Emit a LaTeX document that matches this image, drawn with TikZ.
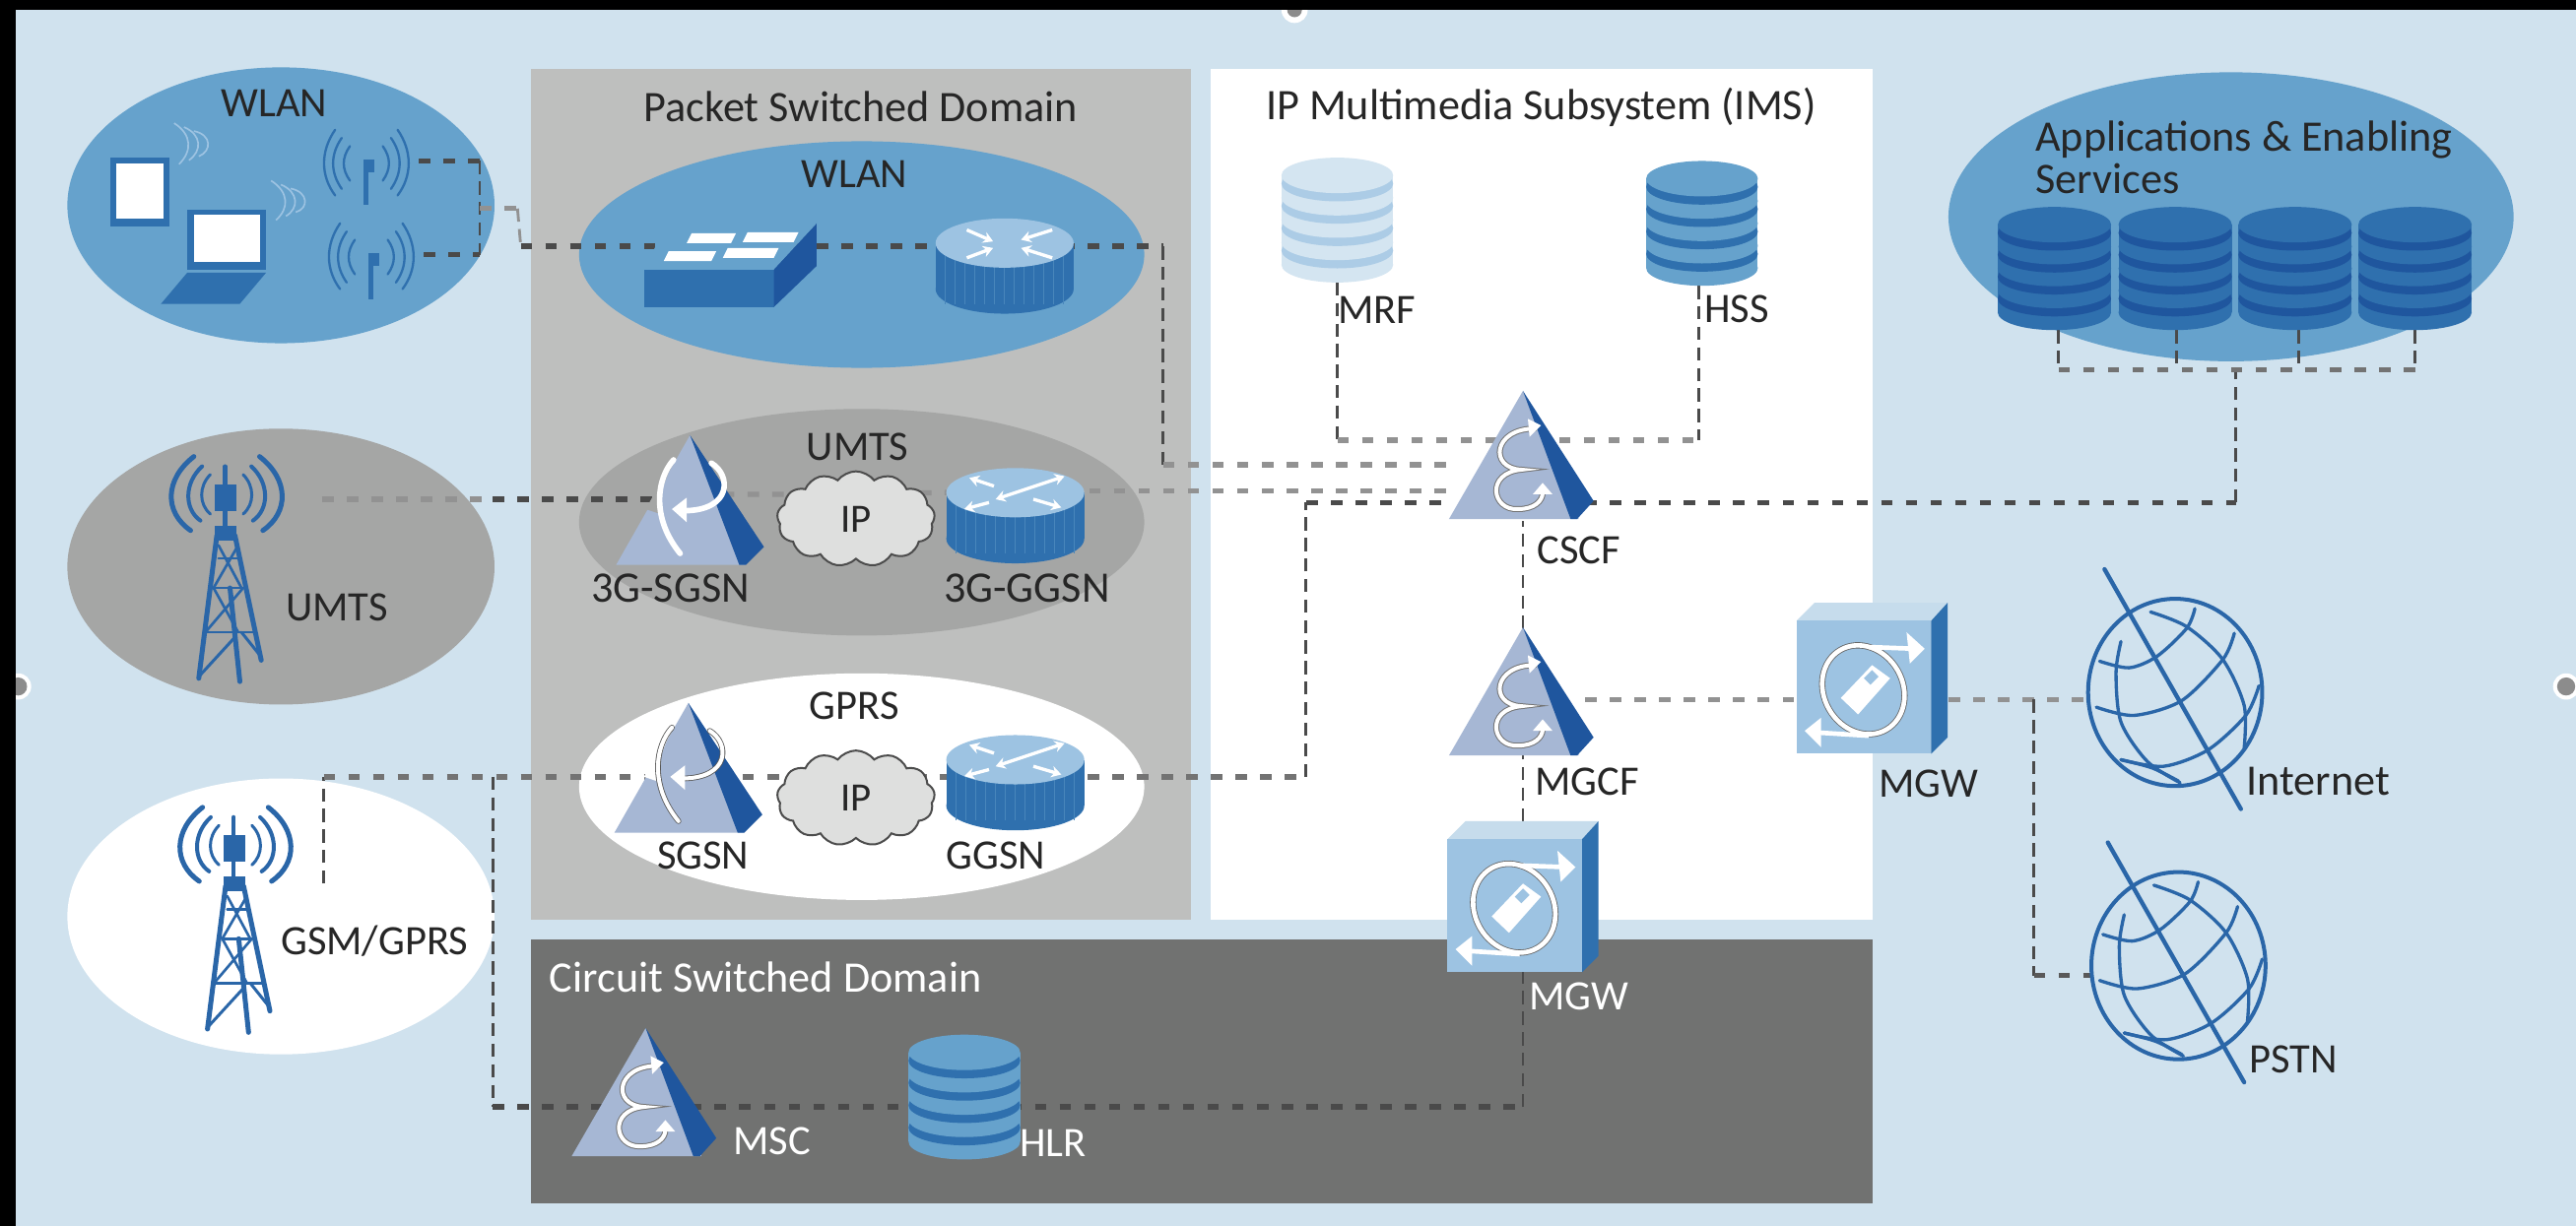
\documentclass[tikz,border=0pt]{standalone}
\usepackage{fontspec}
\setmainfont{Carlito}
\usetikzlibrary{shapes.symbols,arrows.meta}
\definecolor{bgblue}{HTML}{D0E2EE}
\definecolor{midblue}{HTML}{66A2CC}
\definecolor{darkblue}{HTML}{2F70AE}
\definecolor{deepblue}{HTML}{1F569E}
\definecolor{paleblue}{HTML}{9DC3E2}
\definecolor{toppale}{HTML}{C6DCEC}
\definecolor{trilight}{HTML}{A6B7D4}
\definecolor{globeblue}{HTML}{2A66A8}
\definecolor{psgray}{HTML}{BEBFBE}
\definecolor{csgray}{HTML}{717271}
\definecolor{ellgray}{HTML}{A5A6A5}
\definecolor{cloudgray}{HTML}{DEDFDE}
\definecolor{txt}{HTML}{262626}
\definecolor{dashdark}{HTML}{4A4A4A}
\definecolor{dashlight}{HTML}{929292}
\tikzset{
  lbl/.style={font=\fontsize{25.5}{29}\selectfont,text=txt,inner sep=0pt,outer sep=0pt},
  wlbl/.style={lbl,text=white},
  hlbl/.style={lbl,font=\fontsize{26.5}{30}\selectfont},
  hwlbl/.style={hlbl,text=white},
  connh/.style={line width=3.2pt,dash pattern=on 7pt off 8pt,color=dashdark},
  connhl/.style={connh,color=dashlight},
  connv/.style={line width=1.7pt,dash pattern=on 8pt off 4.5pt,color=dashdark},
  cloudnode/.style={cloud,cloud puffs=13,cloud puff arc=105,aspect=1.7,draw=black!70,fill=cloudgray,
    line width=1.2pt,minimum width=96pt,minimum height=58pt,inner sep=0pt,
    font=\fontsize{24.5}{29}\selectfont,text=txt},
  whitearr/.style={color=white,line width=2pt,-{Stealth[length=6pt,width=7pt]}},
  arcline/.style={line width=2.4pt,line cap=round,color=globeblue},
  globeline/.style={line width=2pt,color=globeblue,line cap=round},
  towerline/.style={line width=2.4pt,color=globeblue,line cap=round},
}
% database stack: cx, top, bottom, half-width, light, dark
\newcommand{\DbIcon}[6]{%
  \pgfmathsetmacro{\dbb}{10.8}%
  \pgfmathsetmacro{\dbt}{#2+\dbb}%
  \pgfmathsetmacro{\dbe}{#3-\dbb}%
  \pgfmathsetmacro{\dbp}{(\dbe-\dbt)/4}%
  \fill[#5] (#1-#4,\dbt) rectangle (#1+#4,\dbe);
  \fill[#5] (#1,\dbe) ellipse [x radius=#4,y radius=\dbb];
  \foreach \k in {3,2,1,0}{%
    \pgfmathsetmacro{\yy}{\dbt+\k*\dbp}%
    \pgfmathsetmacro{\yz}{\yy+5}%
    \fill[#6] (#1,\yz) ellipse [x radius=#4,y radius=\dbb];
    \fill[#5] (#1,\yy) ellipse [x radius=#4,y radius=\dbb];
  }%
}
% epsilon symbol, local to apex
\newcommand{\EpsSym}{%
  \path[draw=black!55,line width=3.6pt,line cap=round]
    (7,23) .. controls (-18,23) and (-21,47) .. (-1,48)
    .. controls (-23,50) and (-19,73) .. (-3,72) .. controls (7,72) and (12,67) .. (12,62);
  \path[draw=white,line width=2.4pt,line cap=round]
    (7,23) .. controls (-18,23) and (-21,47) .. (-1,48)
    .. controls (-23,50) and (-19,73) .. (-3,72) .. controls (7,72) and (12,67) .. (12,62);
  \fill[white] (11,21) -- (3,17) -- (4,28) -- cycle;
  \fill[white] (12,56) -- (6,63) -- (18,63) -- cycle;
}
\newcommand{\TriIcon}[2]{%
  \begin{scope}[shift={(#1,#2)}]
    \fill[trilight] (0,0) -- (-45,78) -- (34,78) -- cycle;
    \fill[deepblue] (0,0) -- (43,67) -- (33,78) -- (29,78) -- cycle;
    \EpsSym
  \end{scope}}
% SGSN: x, y, colour behind, outline colour
\newcommand{\SgsnIcon}[4]{%
  \begin{scope}[shift={(#1,#2)}]
    \fill[trilight] (0,0) -- (-45,79) -- (34,79) -- cycle;
    \fill[deepblue] (0,0) -- (45,68) -- (34,79) -- (30,79) -- cycle;
    \fill[#3] (-10,15) -- (-27,45) -- (-18,48) -- (-19,38) -- cycle;
    \path[draw=#4,line width=3.4pt,line cap=round]
      (-10,15) .. controls (-20,26) and (-24,50) .. (-6,72);
    \path[draw=white,line width=2.4pt,line cap=round]
      (-10,15) .. controls (-20,26) and (-24,50) .. (-6,72);
    \path[draw=#4,line width=3.4pt,line cap=round]
      (13,17) .. controls (25,24) and (26,46) .. (-4,46);
    \path[draw=white,line width=2.4pt,line cap=round]
      (13,17) .. controls (25,24) and (26,46) .. (-4,46);
    \fill[white] (-11,45) -- (-2,38) -- (-2,53) -- cycle;
  \end{scope}}
% router: cx, cy of top, cy of bottom
\newcommand{\RouterBody}[3]{%
  \fill[darkblue] (#1-42,#2) rectangle (#1+42,#3);
  \fill[darkblue] (#1,#3) ellipse [x radius=42,y radius=15];
  \foreach \q in {-36,-30,...,36}{\draw[color=midblue!45!darkblue,line width=.5pt] (#1+\q,#2+5) -- (#1+\q,#3+9);}
  \fill[paleblue] (#1,#2) ellipse [x radius=42,y radius=15];
}
\newcommand{\GgsnArrows}[2]{%
  \begin{scope}[shift={(#1,#2)}]
    \draw[whitearr,{Stealth[length=6pt,width=7pt]}-{Stealth[length=6pt,width=7pt]}] (-12,4) -- (30,-10);
    \draw[whitearr] (-13,-4) -- (-28,-9);
    \draw[whitearr] (-16,6) -- (-31,10);
    \draw[whitearr] (11,4) -- (28,9);
  \end{scope}}
% MGW box: x,y of front top-left
\newcommand{\MgwIcon}[2]{%
  \begin{scope}[shift={(#1,#2)}]
    \fill[toppale] (0,0) -- (11,-11) -- (92,-11) -- (82,0) -- cycle;
    \fill[darkblue] (82,0) -- (92,-11) -- (92,71) -- (82,81) -- cycle;
    \fill[paleblue] (0,0) rectangle (82,81);
    \draw[color=black!60,line width=3.8pt,rotate around={30:(40.7,42)}] (40.7,42) ellipse [x radius=24,y radius=28];
    \draw[color=white,line width=2.8pt,rotate around={30:(40.7,42)}] (40.7,42) ellipse [x radius=24,y radius=28];
    \fill[white] (27,47) -- (37.5,57) -- (57,35) -- (46,27) -- cycle;
    \fill[paleblue] (41,35) -- (45,39) -- (50,34) -- (46,30) -- cycle;
    \draw[color=white,line width=2.8pt] (44,16) -- (72,17);
    \fill[white] (78,17) -- (67,7) -- (69,26) -- cycle;
    \draw[color=white,line width=2.8pt] (44,70) -- (12,68);
    \fill[white] (5,67) -- (15,59) -- (15,77) -- cycle;
  \end{scope}}
% globe: centre, axis ends
\newcommand{\GlobeIcon}[2]{%
  \begin{scope}[shift={(#1,#2)}]
    \draw[globeline,line width=2.4pt] (0,0) ellipse [x radius=53,y radius=57];
    \draw[globeline,line width=2.6pt] (-43,-75) -- (40,71);
    \draw[globeline] plot[smooth] coordinates {(-46,-19) (-28,-15) (-11,-22) (7,-39) (12,-51)};
    \draw[globeline] plot[smooth] coordinates {(-48,9) (-25,14) (4,5) (29,-20) (36,-36)};
    \draw[globeline] plot[smooth] coordinates {(-33,41) (-7,45) (20,35) (43,14) (51,-4)};
    \draw[globeline] plot[smooth] coordinates {(-33,-31) (-36,-12) (-33,18) (-17,42) (3,55)};
    \draw[globeline] plot[smooth] coordinates {(-15,-49) (7,-40) (29,-20) (42,8) (42,34)};
    \draw[globeline] plot[smooth] coordinates {(-33,41) (-14,46) (2,54)};
  \end{scope}}
% tower, local to tower top
\newcommand{\TowerIcon}[2]{%
  \begin{scope}[shift={(#1,#2)}]
    \draw[towerline,line width=2.6pt] (0,-36) -- (0,0);
    \fill[globeblue] (-6,-25) rectangle (7,-9);
    \draw[arcline,line width=3pt] (-19,-42) .. controls (-37,-28) and (-37,-8) .. (-21,3);
    \draw[arcline] (-14,-36) .. controls (-25,-26) and (-25,-10) .. (-15,-3);
    \draw[arcline,line width=1.8pt] (-9,-31) .. controls (-16,-24) and (-16,-13) .. (-9,-7);
    \draw[arcline,line width=3pt] (21,-42) .. controls (39,-28) and (39,-8) .. (23,3);
    \draw[arcline] (16,-36) .. controls (27,-26) and (27,-10) .. (17,-3);
    \draw[arcline,line width=1.8pt] (11,-31) .. controls (18,-24) and (18,-13) .. (11,-7);
    \fill[globeblue] (-6,0) rectangle (7,9);
    \draw[towerline,line width=3pt] (-5,6) -- (-16,93);
    \draw[towerline,line width=3pt] (6,6) -- (22,82);
    \draw[towerline,line width=3pt] (3,38) -- (9,95);
    \draw[towerline,line width=1.6pt] (-4,20) -- (8,20) (-7,38) -- (11,38) (-12,65) -- (17,65);
    \draw[towerline,line width=1.6pt] (-4,12) -- (10,38) (8,12) -- (-7,38) (-7,38) -- (8,65) (11,38) -- (-12,65);
    \draw[towerline,line width=1.8pt] (-16,92) -- (6,68) (10,65) -- (22,80);
  \end{scope}}
% access point
\newcommand{\ApIcon}[2]{%
  \begin{scope}[shift={(#1,#2)}]
    \draw[towerline,color=darkblue,line width=3pt,line cap=butt] (1,0) -- (1,28);
    \fill[darkblue] (0,0) rectangle (6,8);
    \draw[arcline,color=darkblue,line width=1.4pt] (-9,-8) .. controls (-14,-1) and (-14,6) .. (-9,13);
    \draw[arcline,color=darkblue,line width=1.4pt] (-14,-13) .. controls (-21,-3) and (-21,8) .. (-14,18);
    \draw[arcline,color=darkblue,line width=1.4pt] (-18,-18) .. controls (-27,-5) and (-27,10) .. (-18,22);
    \draw[arcline,color=darkblue,line width=1.4pt] (11,-8) .. controls (16,-1) and (16,6) .. (11,13);
    \draw[arcline,color=darkblue,line width=1.4pt] (16,-13) .. controls (23,-3) and (23,8) .. (16,18);
    \draw[arcline,color=darkblue,line width=1.4pt] (20,-18) .. controls (29,-5) and (29,10) .. (20,22);
  \end{scope}}
\begin{document}
\begin{tikzpicture}[x=1pt,y=-1pt]
\useasboundingbox (0,0) rectangle (1568,746.5);
% background and frame
\fill[bgblue] (0,0) rectangle (1568,746.5);
\fill[white] (788,6) circle (8pt) (11,418) circle (8pt) (1562,418) circle (8pt);
\fill[black!45] (788,6) circle (4.5pt) (11,418) circle (5.5pt) (1562,418) circle (5.5pt);
\fill[black] (0,0) rectangle (1568,6);
\fill[black] (0,0) rectangle (9.5,746.5);
% panels
\fill[psgray] (323,42) rectangle (725,560);
\fill[white] (737,42) rectangle (1140,560);
\fill[csgray] (323,572) rectangle (1140,733);
% ellipses
\fill[midblue] (171,125) ellipse [x radius=130,y radius=84];
\fill[ellgray] (171,345) ellipse [x radius=130,y radius=84];
\fill[white] (171,558) ellipse [x radius=130,y radius=84];
\fill[midblue] (524.5,155) ellipse [x radius=172,y radius=69];
\fill[ellgray] (524.5,318) ellipse [x radius=172,y radius=69];
\fill[white] (524.5,479) ellipse [x radius=172,y radius=69];
\fill[midblue] (1358,132) ellipse [x radius=172,y radius=88];
% connector ports
\coordinate (apA) at (255,98);
\coordinate (apB) at (258,155);
\coordinate (wlJa) at (292,98);
\coordinate (wlJb) at (292,155);
\coordinate (wlOut) at (292,127);
\coordinate (wlKa) at (315,127);
\coordinate (wlKb) at (317,150);
\coordinate (swPS) at (450,150);
\coordinate (rtPS) at (611,150);
\coordinate (wlE) at (708,150);
\coordinate (wlF) at (708,283);
\coordinate (cscfWa) at (882,283);
\coordinate (umtsAnt) at (196,304);
\coordinate (umtsMid) at (300,304);
\coordinate (sgsnUw) at (420,304);
\coordinate (sgsnUe) at (425,301);
\coordinate (ipU) at (524,301);
\coordinate (ggsnU) at (618,299);
\coordinate (cscfWb) at (884,299);
\coordinate (gsmAnt) at (197,538);
\coordinate (gsmUp) at (197,473);
\coordinate (gsmJ) at (300,473);
\coordinate (sgsnG) at (420,473);
\coordinate (ipG) at (524,473);
\coordinate (ggsnG) at (618,473);
\coordinate (imsK) at (795,473);
\coordinate (imsL) at (795,306);
\coordinate (cscfWc) at (884,306);
\coordinate (mscJ) at (300,674);
\coordinate (msc) at (393,674);
\coordinate (hlr) at (587,674);
\coordinate (mgwJ) at (927,674);
\coordinate (mgwLs) at (927,592);
\coordinate (mgwLn) at (927,500);
\coordinate (mgcfS) at (927,459);
\coordinate (mgcfN) at (927,383);
\coordinate (cscfS) at (927,317);
\coordinate (mrf) at (814,172);
\coordinate (mrfJ) at (814,268);
\coordinate (hss) at (1034,174);
\coordinate (hssJ) at (1034,268);
\coordinate (cscfE) at (965,306);
\coordinate (appK) at (1361,306);
\coordinate (appJ) at (1361,225);
\coordinate (busA) at (1253,225);
\coordinate (busB) at (1325,225);
\coordinate (busC) at (1399,225);
\coordinate (busD) at (1470,225);
\coordinate (appA) at (1253,201);
\coordinate (appB) at (1325,201);
\coordinate (appC) at (1399,201);
\coordinate (appD) at (1470,201);
\coordinate (mgcfE) at (965,426);
\coordinate (mgwRw) at (1093,426);
\coordinate (mgwRe) at (1186,426);
\coordinate (inetJ) at (1238,426);
\coordinate (inet) at (1272,426);
\coordinate (pstnJ) at (1238,594);
\coordinate (pstn) at (1274,594);
% connectors
\draw[connh] (apA) -- (wlJa);
\draw[connh] (apB) -- (wlJb);
\draw[connv] (wlJa) -- (wlJb);
\draw[connhl] (wlOut) -- (wlKa);
\draw[connv,color=dashlight] (wlKa) -- (wlKb);
\draw[connh] (wlKb) -- (swPS) -- (rtPS) -- (wlE);
\draw[connv] (wlE) -- (wlF);
\draw[connhl] (wlF) -- (cscfWa);
\draw[connhl] (umtsAnt) -- (umtsMid);
\draw[connh] (umtsMid) -- (sgsnUw);
\draw[connhl] (sgsnUe) -- (ipU) -- (ggsnU);
\draw[connhl] (ggsnU) -- (cscfWb);
\draw[connv] (gsmAnt) -- (gsmUp);
\draw[connhl,color=black!55] (gsmUp) -- (gsmJ) -- (sgsnG) -- (ipG) -- (ggsnG) -- (imsK);
\draw[connv] (imsK) -- (imsL);
\draw[connh] (imsL) -- (cscfWc);
\draw[connv] (gsmJ) -- (mscJ);
\draw[connh] (mscJ) -- (msc) -- (hlr) -- (mgwJ);
\draw[connv] (mgwJ) -- (mgwLs);
\draw[connv] (mgwLn) -- (mgcfS);
\draw[connv] (mgcfN) -- (cscfS);
\draw[connv] (mrf) -- (mrfJ);
\draw[connhl] (mrfJ) -- (hssJ);
\draw[connv] (hss) -- (hssJ);
\draw[connh] (cscfE) -- (appK);
\draw[connv] (appK) -- (appJ);
\draw[connhl,color=black!55] (busA) -- (busB) -- (appJ) -- (busC) -- (busD);
\draw[connv] (appA) -- (busA);
\draw[connv] (appB) -- (busB);
\draw[connv] (appC) -- (busC);
\draw[connv] (appD) -- (busD);
\draw[connhl] (mgcfE) -- (mgwRw);
\draw[connhl] (mgwRe) -- (inetJ) -- (inet);
\draw[connv] (inetJ) -- (pstnJ);
\draw[connhl,color=black!65] (pstnJ) -- (pstn);
% WLAN devices
\fill[darkblue] (67,96) rectangle (103,138);
\fill[white] (71,99.5) rectangle (99.5,133);
\fill[darkblue] (114,128) rectangle (162,164);
\fill[white] (118,131) rectangle (158,159.5);
\fill[darkblue] (114,166) -- (162,166) -- (146,185) -- (98,185) -- cycle;
\foreach \r in {0,6,12}{
  \draw[color=paleblue,line width=1pt] (106+\r,75+\r*.4) .. controls (117+\r,82) and (117+\r,92) .. (109+\r,100-\r*.4);
  \draw[color=paleblue,line width=1pt] (165+\r,110+\r*.4) .. controls (176+\r,117) and (176+\r,127) .. (168+\r,134-\r*.4);
}
\ApIcon{222}{97}
\ApIcon{225}{154}
% packet-domain WLAN
\fill[darkblue] (392,164) rectangle (471,187);
\fill[deepblue] (471,164) -- (497,136) -- (497,162) -- (471,187) -- cycle;
\fill[midblue] (406,136) -- (497,136) -- (471,164) -- (392,164) -- cycle;
\foreach \a/\b/\c in {418/445/142,452/483/141.5,404/433/153,440/471/151}{
  \fill[white] (\a+3,\c) -- (\b+3,\c) -- (\b,\c+6) -- (\a,\c+6) -- cycle;
}
\RouterBody{611.5}{148}{176}
\begin{scope}[shift={(611.5,148)}]
  \draw[whitearr] (-23,-8) -- (-7,-1);
  \draw[whitearr] (-23,9) -- (-7,3);
  \draw[whitearr] (29,-8) -- (10,-2);
  \draw[whitearr] (29,9) -- (10,3);
\end{scope}
% UMTS core
\TowerIcon{137}{320}
\SgsnIcon{420}{265}{ellgray}{white}
\node[cloudnode] (ipUcloud) at (521,316) {IP};
\RouterBody{618}{300}{328}
\GgsnArrows{618}{300}
% GPRS core
\TowerIcon{142.3}{533.6}
\SgsnIcon{419}{428}{white}{black!65}
\node[cloudnode] (ipGcloud) at (521,486) {IP};
\RouterBody{618}{462.6}{490.6}
\GgsnArrows{618}{462.6}
% circuit domain
\TriIcon{393}{626}
\DbIcon{587}{630}{706}{34}{midblue}{darkblue}
% IMS
\DbIcon{814}{96}{172}{34}{toppale!75!white}{paleblue!85!white}
\DbIcon{1036}{98}{174}{34}{midblue}{darkblue}
\TriIcon{927}{238}
\TriIcon{927}{382}
\MgwIcon{881}{511}
\MgwIcon{1093.5}{378}
% applications
\DbIcon{1250.5}{126}{201}{34.5}{darkblue}{deepblue}
\DbIcon{1324}{126}{201}{34.5}{darkblue}{deepblue}
\DbIcon{1397}{126}{201}{34.5}{darkblue}{deepblue}
\DbIcon{1470}{126}{201}{34.5}{darkblue}{deepblue}
% globes
\GlobeIcon{1324}{421.6}
\GlobeIcon{1326}{588}
% labels
\node[lbl] (tWlanL) at (167,63) {WLAN};
\node[hlbl] (tPS) at (524,65) {Packet Switched Domain};
\node[lbl] (tWlanP) at (520,106) {WLAN};
\node[lbl] (tUmtsP) at (522,272) {UMTS};
\node[hlbl] (t3gs) at (408,358) {3G-SGSN};
\node[hlbl] (t3gg) at (625,358) {3G-GGSN};
\node[lbl] (tUmtsL) at (205,370) {UMTS};
\node[lbl] (tGprs) at (520,430) {GPRS};
\node[lbl] (tSgsn) at (428,521) {SGSN};
\node[lbl] (tGgsn) at (606,521) {GGSN};
\node[lbl] (tGsm) at (228,573) {GSM/GPRS};
\node[hwlbl] (tCS) at (466,595) {Circuit Switched Domain};
\node[wlbl] (tMsc) at (470,695) {MSC};
\node[wlbl] (tHlr) at (641,696) {HLR};
\node[wlbl] (tMgwL) at (961,607) {MGW};
\node[hlbl] (tIMS) at (938,65) {IP Multimedia Subsystem (IMS)};
\node[lbl] (tMrf) at (838,189) {MRF};
\node[lbl] (tHss) at (1057,188) {HSS};
\node[lbl] (tCscf) at (961,335) {CSCF};
\node[lbl] (tMgcf) at (966,476) {MGCF};
\node[lbl] (tMgwR) at (1174,477) {MGW};
\node[hlbl] (tInet) at (1411,476) {Internet};
\node[lbl] (tPstn) at (1396,645) {PSTN};
\node[hlbl,anchor=west] (tAppA) at (1239,85) {Applications \& Enabling};
\node[hlbl,anchor=west] (tAppB) at (1239,109) {Services};
\end{tikzpicture}
\end{document}
